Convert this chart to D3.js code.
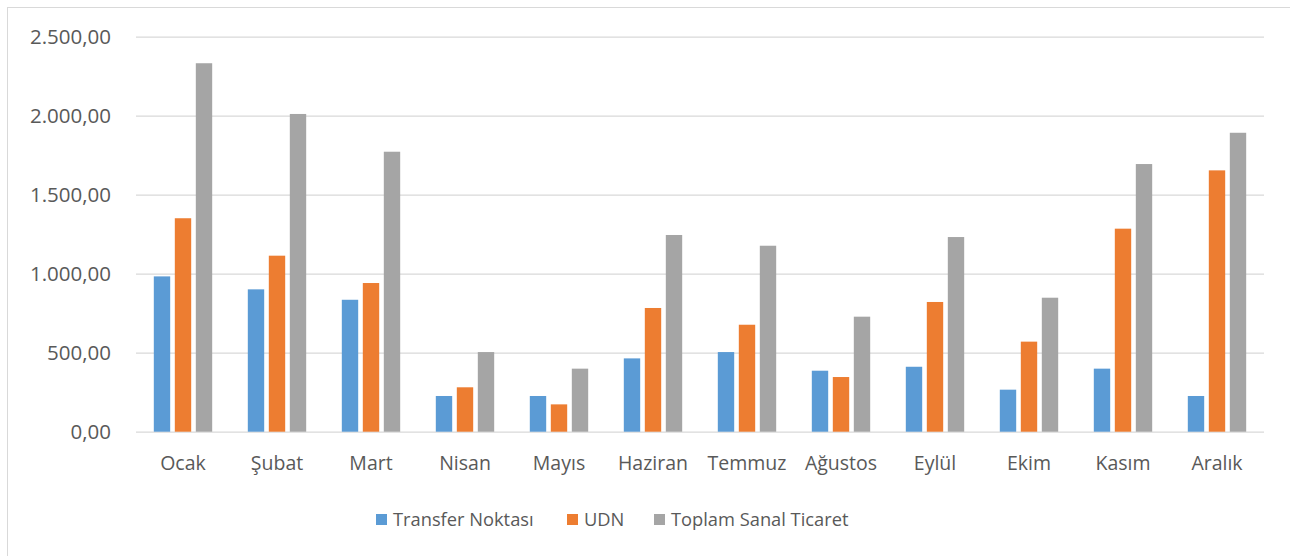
<!DOCTYPE html>
<html>
<head>
<meta charset="utf-8">
<script src="https://cdn.jsdelivr.net/npm/d3@7"></script>
<style>
  body { margin: 0; background: #fff; }
  text { font-family: "Open Sans", sans-serif; fill: #595959; }
</style>
</head>
<body>
<svg></svg>
<script>
// months on the x-axis, three series per month
let months = ['Ocak', 'Şubat', 'Mart', 'Nisan', 'Mayıs', 'Haziran', 'Temmuz', 'Ağustos', 'Eylül', 'Ekim', 'Kasım', 'Aralık'];
let seriesNames = ['Transfer Noktası', 'UDN', 'Toplam Sanal Ticaret'];
let transfer = [983, 901, 835, 226, 226, 464, 504, 386, 411, 266, 399, 226];
let udn = [1351, 1114, 941, 281, 173, 783, 677, 346, 821, 570, 1285, 1654];
let toplam = [2332, 2011, 1772, 504, 399, 1245, 1177, 728, 1232, 848, 1694, 1892];
let yTicks = [0, 500, 1000, 1500, 2000, 2500];
let colors = ['#5B9BD5', '#ED7D31', '#A5A5A5'];

let width = 1290;
let height = 556;
let plotLeft = 136, plotRight = 1264, plotTop = 36.7, plotBottom = 431.7;

let svg = d3.select('svg')
  .attr('width', width)
  .attr('height', height);

// chart frame
svg.append('rect')
  .attr('x', 7.5).attr('y', 7.5)
  .attr('width', 1290).attr('height', 600)
  .attr('fill', 'none')
  .attr('stroke', '#D9D9D9');

let yScale = d3.scaleLinear()
  .domain([0, 2500])
  .range([plotBottom, plotTop]);

let x0 = d3.scaleBand()
  .domain(months)
  .range([plotLeft, plotRight]);

let x1 = d3.scaleBand()
  .domain(seriesNames)
  .range([15.5, 78.5])
  .paddingInner(0.22)
  .paddingOuter(0.11);

let fmt = d3.formatLocale({ decimal: ',', thousands: '.', grouping: [3], currency: ['', ''] }).format(',.2f');

// gridlines + labels
let yAxis = d3.axisLeft(yScale)
  .tickValues(yTicks)
  .tickSize(-(plotRight - plotLeft))
  .tickPadding(25)
  .tickFormat(fmt);

svg.append('g')
  .attr('transform', 'translate(' + plotLeft + ',0)')
  .call(yAxis)
  .call(g => g.select('.domain').remove())
  .call(g => g.selectAll('line').attr('stroke', '#D9D9D9').attr('stroke-width', 1.3))
  .call(g => g.selectAll('text').style('font-size', '20.5px').attr('fill', '#595959'));

let table = months.map((m, i) => ({
  month: m,
  values: [transfer[i], udn[i], toplam[i]]
}));

svg.append('g')
  .selectAll('g')
  .data(table)
  .enter()
  .append('g')
  .attr('transform', d => 'translate(' + x0(d.month) + ',0)')
  .selectAll('rect')
  .data(d => d.values.map((v, j) => ({ name: seriesNames[j], value: v, color: colors[j] })))
  .enter()
  .append('rect')
  .attr('x', d => x1(d.name))
  .attr('width', x1.bandwidth())
  .attr('y', d => yScale(d.value))
  .attr('height', d => yScale(0) - yScale(d.value))
  .style('fill', d => d.color);

let xAxis = d3.axisBottom(x0).tickSize(0).tickPadding(24);
svg.append('g')
  .attr('transform', 'translate(0,' + plotBottom + ')')
  .call(xAxis)
  .call(g => g.select('.domain').remove())
  .call(g => g.selectAll('text').style('font-size', '19.5px').attr('fill', '#595959'));

// legend
let legendX = [376, 567, 654];
let legend = svg.append('g')
  .selectAll('g')
  .data(seriesNames)
  .enter()
  .append('g')
  .attr('transform', (d, i) => 'translate(' + legendX[i] + ',514)');

legend.append('rect')
  .attr('width', 11).attr('height', 11)
  .style('fill', (d, i) => colors[i]);

legend.append('text')
  .attr('x', 17)
  .attr('y', 11.5)
  .style('font-size', '18.3px')
  .text(d => d);
</script>
</body>
</html>
